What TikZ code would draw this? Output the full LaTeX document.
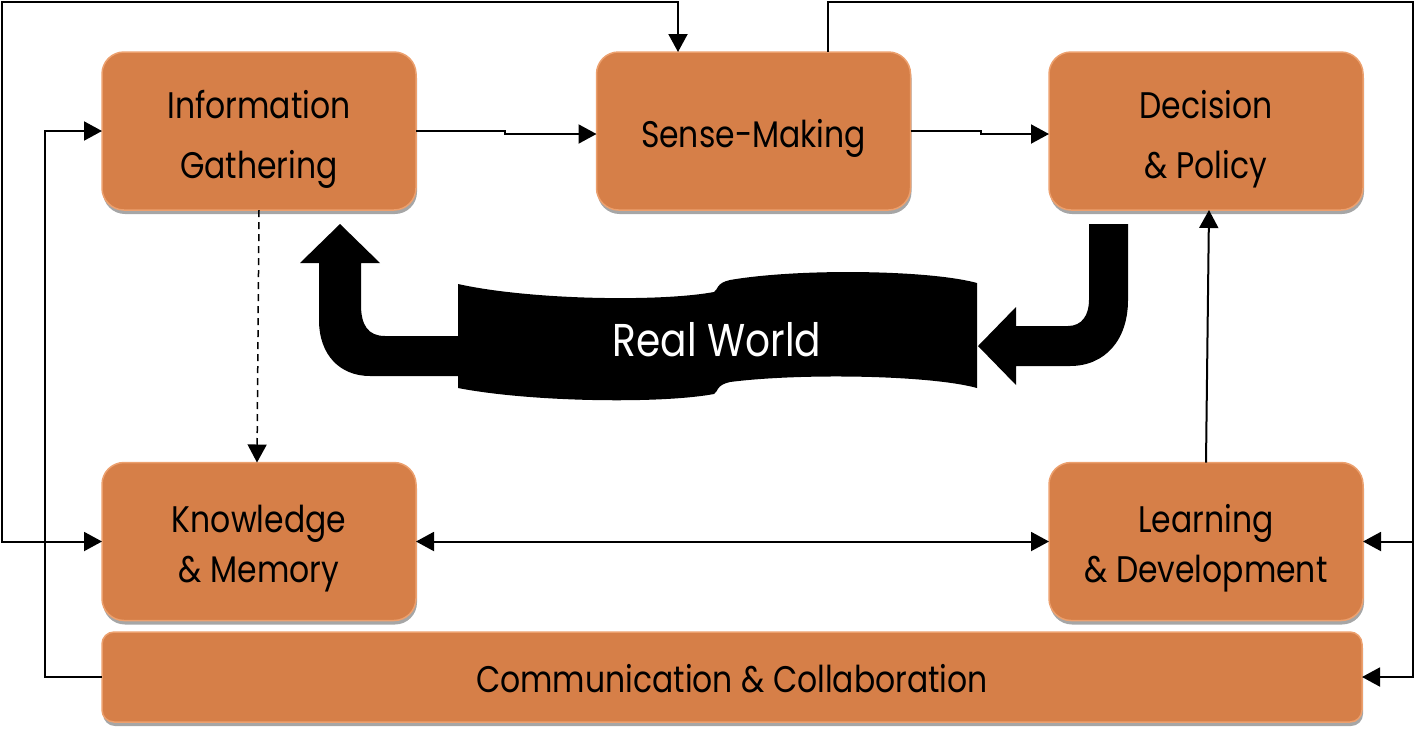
\documentclass[tikz,border=0pt]{standalone}
\usepackage{fontspec}
\setmainfont{Poppins}[FakeStretch=0.85]
\usetikzlibrary{shadows,arrows.meta,calc}
\definecolor{boxfill}{RGB}{214,127,72}
\definecolor{boxrim}{RGB}{236,160,110}
\newcommand{\lowtext}[2]{\raisebox{-#1}[\height][\depth]{\begin{tabular}{@{}c@{}}#2\end{tabular}}}
\tikzset{
  box/.style={rectangle, rounded corners=22pt, fill=boxfill, draw=boxrim, line width=1.5pt,
    minimum width=314pt, minimum height=158pt, inner sep=0pt, outer sep=0pt, align=center,
    text=black, font=\fontsize{37}{60}\selectfont,
    drop shadow={shadow xshift=1pt, shadow yshift=-4pt, opacity=0.35, fill=black}},
  lowbox/.style={box, font=\fontsize{37}{50}\selectfont},
  arr/.style={line width=2pt, -{Triangle[length=18pt,width=19pt]}},
  darr/.style={line width=2pt, {Triangle[length=18pt,width=19pt]}-{Triangle[length=18pt,width=19pt]}},
}
\begin{document}
\begin{tikzpicture}[x=1pt,y=-1pt]
\useasboundingbox (0,0) rectangle (1416,740);

\node[box] (info) at (259,131) {\lowtext{5pt}{Information\\Gathering}};
\node[box] (sense) at (753.5,131) {\lowtext{4pt}{Sense-Making}};
\node[box] (dec) at (1206,131) {\lowtext{5pt}{Decision\\\& Policy}};
\node[lowbox] (know) at (259,541.5) {\lowtext{6pt}{Knowledge\\\& Memory}};
\node[lowbox] (learn) at (1206,541.5) {\lowtext{6pt}{Learning\\\& Development}};
\node[box, rounded corners=12pt, minimum width=1260pt, minimum height=90pt] (comm) at (732,677) {\lowtext{3pt}{Communication \& Collaboration}};

% Real World banner
\fill[black] (458,284) .. controls (530,300) and (660,302) .. (714,292)
  .. controls (718,290) and (716,283) .. (730,280)
  .. controls (800,268) and (930,270) .. (977,283) -- (977,388)
  .. controls (930,375) and (800,373) .. (730,382)
  .. controls (716,385) and (718,392) .. (714,394)
  .. controls (660,404) and (530,402) .. (458,388) -- cycle;
\node[text=white, font=\fontsize{46}{50}\selectfont] (rw) at (717,340) {Real World};

% thick black arrows
\fill[black] (458,336) -- (385,336) .. controls (368,336) and (361,325) .. (361,305)
  -- (361,263) -- (380,263) -- (340,224) -- (300,263) -- (319,263) -- (319,320)
  .. controls (319,355) and (340,376) .. (370,376) -- (458,376) -- cycle;
\fill[black] (1089,224) -- (1128,224) -- (1128,300)
  .. controls (1128,340) and (1105,366) .. (1070,366) -- (1016,366) -- (1016,385)
  -- (978,346) -- (1016,307) -- (1016,326) -- (1068,326)
  .. controls (1082,326) and (1089,315) .. (1089,300) -- cycle;

% connectors
\coordinate (tl) at (2,2);
\coordinate (tr) at (1413,2);
\coordinate (lv) at (45,131);
\draw[arr] (info.east) -- ++(89,0) -- ++(0,3) -- ([yshift=-3pt]sense.west);
\draw[arr] (sense.east) -- ++(70,0) -- ++(0,3) -- ([yshift=-3pt]dec.west);
\draw[line width=1.5pt, dash pattern=on 7pt off 5pt, -{Triangle[length=18pt,width=19pt]}] (info.south) -- ([xshift=-2pt]know.north);
\draw[darr] (know.east) -- (learn.west);
\draw[arr] (learn.north) -- ([xshift=3pt]dec.south);
\draw[darr] (know.west) -| (tl) -| ([xshift=-75.5pt]sense.north);
\draw[arr] (comm.west) -| (lv) -- (info.west);
\draw[arr] ([xshift=74.5pt]sense.north) |- (tr) |- (comm.east);
\draw[arr] (tr |- learn.east) -- (learn.east);
\end{tikzpicture}
\end{document}
